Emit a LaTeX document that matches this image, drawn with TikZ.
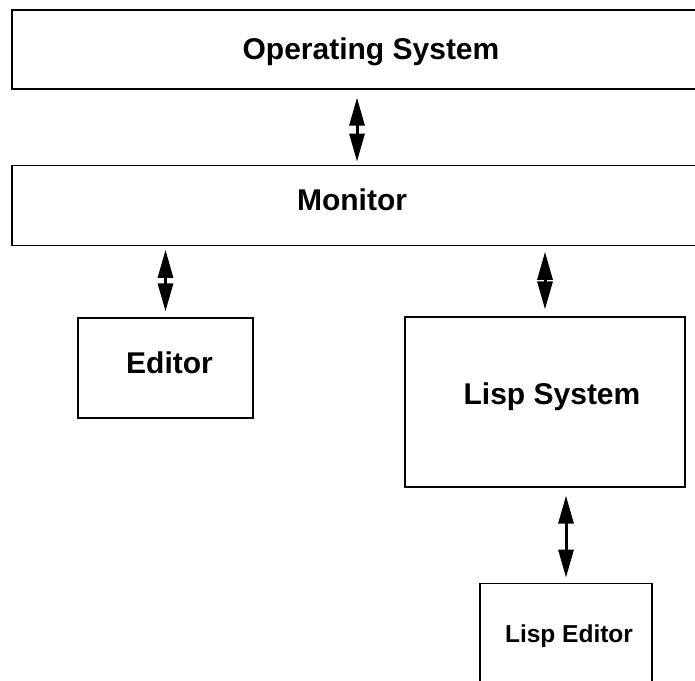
\documentclass[tikz,border=0pt]{standalone}
\usepackage{fontspec}
\setmainfont{Liberation Sans}
\usepackage{tikz}
\usetikzlibrary{arrows.meta,positioning}
\tikzstyle{box}=[draw,rectangle,line width=1.2pt,inner sep=0pt,font=\bfseries\fontsize{30}{36}\selectfont,text height=22pt,text depth=12pt]
\tikzstyle{link}=[line width=3pt,{Triangle[length=28pt,width=15pt]}-{Triangle[length=28pt,width=15pt]}]

\begin{document}
\begin{tikzpicture}[x=1pt,y=-1pt]
\useasboundingbox (0,0) rectangle (695,680);
\clip (0,0) rectangle (695,680);
\node [box,minimum width=690pt,minimum height=79pt,text depth=3pt] (os) at (357,49.5) {\hspace*{28pt}Operating System};
\node [box,minimum width=690pt,minimum height=80pt] [below=75pt of os] (monitor) {Monitor\hspace*{10pt}};
\node [box,minimum width=175pt,minimum height=100pt] (editor) at (165.5,368) {\hspace*{8pt}Editor};
\node [box,minimum width=280pt,minimum height=170pt,text depth=18pt] (lisp) at (545,402) {\hspace*{14pt}Lisp System};
\node [box,minimum width=172pt,minimum height=120pt,font=\bfseries\fontsize{24.5}{29}\selectfont,text height=18pt,text depth=20pt] [below=95pt of lisp,xshift=21pt] (lispeditor) {\hspace*{6pt}Lisp Editor};
\draw [link,shorten <=8pt,shorten >=3pt] (os) -- (monitor);
\draw [link,shorten <=4pt,shorten >=6pt] (monitor.south -| editor.north) -- (editor);
\draw [link,shorten <=6pt,shorten >=7pt] (monitor.south -| lisp.north) -- (lisp);
\draw [link,shorten <=8pt,shorten >=5pt] (lisp.south -| lispeditor.north) -- (lispeditor);
\end{tikzpicture}
\end{document}
